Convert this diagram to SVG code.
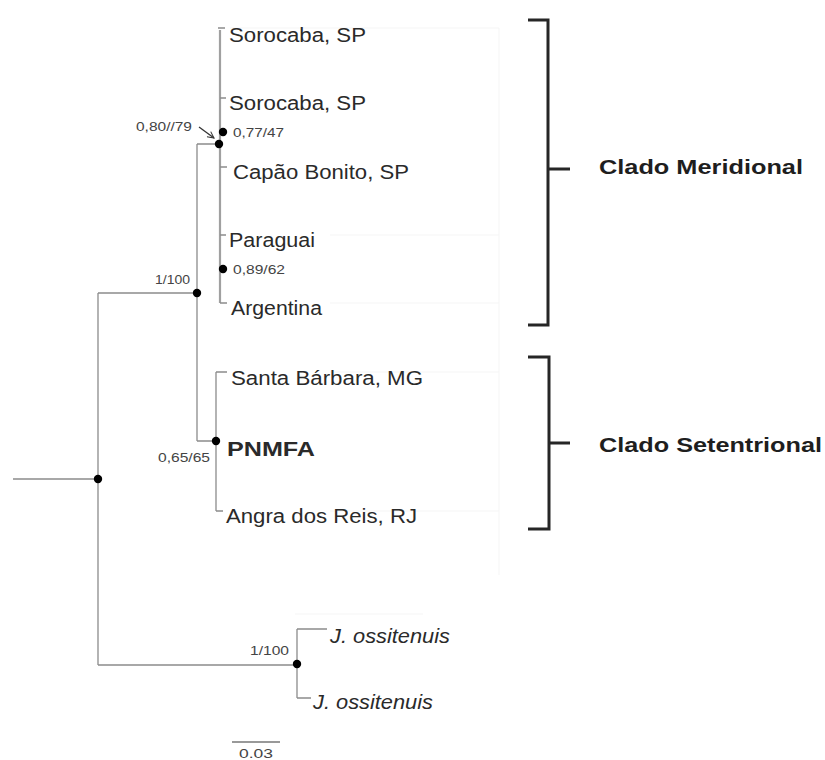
<svg xmlns="http://www.w3.org/2000/svg" width="825" height="760" viewBox="0 0 825 760">
<defs>
<style>
.br{stroke:#8c8c8c;stroke-width:1.3;fill:none}
.br2{stroke:#a0a0a0;stroke-width:2.2;fill:none}
.faint{stroke:#f5f5f5;stroke-width:1;fill:none}
.bk{stroke:#262626;stroke-width:3;fill:none}
.dot{fill:#000}
.lf{font-family:"Liberation Sans",Arial,sans-serif;font-size:20px;fill:#2a2a2a}
.it{font-style:italic}
.sm{font-family:"Liberation Sans",Arial,sans-serif;font-size:13px;fill:#444}
.cl{font-family:"Liberation Sans",Arial,sans-serif;font-size:21px;font-weight:bold;fill:#1e1e1e}
</style>
<marker id="ah" viewBox="0 0 10 10" refX="9" refY="5" markerWidth="8" markerHeight="8" orient="auto" markerUnits="userSpaceOnUse">
<path d="M1,1 L9,5 L1,9" fill="none" stroke="#333" stroke-width="1.3"/>
</marker>
</defs>
<rect width="825" height="760" fill="#fff"/>
<g id="faint-lines">
<path class="faint" d="M230,28 H499 V575 M330,235 H499 M330,303 H499 M330,372 H499 M330,511 H499 M295,614 H423"/>
</g>
<g id="connectors">
<path class="br" d="M13,479 H98 M98,293 V665 M98,293 H197 M197,144 V441 M197,144 H219 M197,441 H216"/>
<path class="br2" d="M220,30 V303"/>
<path class="br" d="M218,28 H225 M220,98 H226 M220,167 H227 M220,235 H226 M220,303 H227"/>
<path class="br" d="M216,372 V511 M216,372 H227 M216,511 H223"/>
<path class="br" d="M98,665 H297 M297,629 V698 M297,629 H327 M297,698 H311"/>
<path d="M199,127 L214,138" stroke="#333" stroke-width="1.3" fill="none" marker-end="url(#ah)"/>
<path d="M232,742 H280" stroke="#777" stroke-width="1.3"/>
</g>
<g id="dots">
<circle class="dot" cx="98" cy="479" r="4.2"/>
<circle class="dot" cx="197" cy="293" r="4.2"/>
<circle class="dot" cx="219" cy="144" r="4.2"/>
<circle class="dot" cx="223" cy="132" r="4.2"/>
<circle class="dot" cx="223" cy="269" r="4.2"/>
<circle class="dot" cx="216" cy="441" r="4.2"/>
<circle class="dot" cx="297" cy="664" r="4.2"/>
</g>
<g id="support-labels">
<text class="sm" x="136" y="131" textLength="56" lengthAdjust="spacingAndGlyphs">0,80//79</text>
<text class="sm" x="233" y="137" textLength="51" lengthAdjust="spacingAndGlyphs">0,77/47</text>
<text class="sm" x="233" y="274" textLength="52" lengthAdjust="spacingAndGlyphs">0,89/62</text>
<text class="sm" x="155" y="284" textLength="35" lengthAdjust="spacingAndGlyphs">1/100</text>
<text class="sm" x="158" y="462" textLength="52" lengthAdjust="spacingAndGlyphs">0,65/65</text>
<text class="sm" x="250" y="655" textLength="39" lengthAdjust="spacingAndGlyphs">1/100</text>
<text class="sm" x="239" y="758" textLength="34" lengthAdjust="spacingAndGlyphs">0.03</text>
</g>
<g id="leaf-sorocaba-1"><text class="lf" x="229" y="42" textLength="137" lengthAdjust="spacingAndGlyphs">Sorocaba, SP</text></g>
<g id="leaf-sorocaba-2"><text class="lf" x="229" y="110" textLength="137" lengthAdjust="spacingAndGlyphs">Sorocaba, SP</text></g>
<g id="leaf-capao-bonito"><text class="lf" x="233" y="179" textLength="176" lengthAdjust="spacingAndGlyphs">Capão Bonito, SP</text></g>
<g id="leaf-paraguai"><text class="lf" x="229" y="247" textLength="86" lengthAdjust="spacingAndGlyphs">Paraguai</text></g>
<g id="leaf-argentina"><text class="lf" x="231" y="315" textLength="91" lengthAdjust="spacingAndGlyphs">Argentina</text></g>
<g id="leaf-santa-barbara"><text class="lf" x="231" y="385" textLength="192" lengthAdjust="spacingAndGlyphs">Santa Bárbara, MG</text></g>
<g id="leaf-pnmfa"><text class="lf" x="227" y="456" font-size="22" font-weight="bold" fill="#111" textLength="88" lengthAdjust="spacingAndGlyphs">PNMFA</text></g>
<g id="leaf-angra"><text class="lf" x="226" y="523" textLength="191" lengthAdjust="spacingAndGlyphs">Angra dos Reis, RJ</text></g>
<g id="leaf-ossitenuis-1"><text class="lf it" x="330" y="643" textLength="120" lengthAdjust="spacingAndGlyphs">J. ossitenuis</text></g>
<g id="leaf-ossitenuis-2"><text class="lf it" x="313" y="709" textLength="120" lengthAdjust="spacingAndGlyphs">J. ossitenuis</text></g>
<g id="clado-meridional">
<path class="bk" d="M528,20 H548 V325 H528 M548,169 H570"/>
<text class="cl" x="599" y="174" textLength="204" lengthAdjust="spacingAndGlyphs">Clado Meridional</text>
</g>
<g id="clado-setentrional">
<path class="bk" d="M528,357 H549 V529 H528 M549,443 H570"/>
<text class="cl" x="599" y="452" textLength="223" lengthAdjust="spacingAndGlyphs">Clado Setentrional</text>
</g>
</svg>
